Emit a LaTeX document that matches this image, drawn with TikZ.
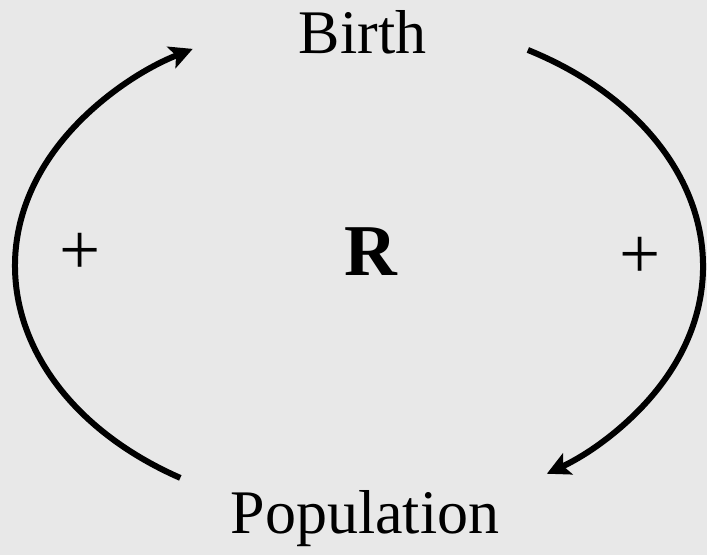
\documentclass[tikz,border=0pt]{standalone}
\usepackage{fontspec}
\setmainfont{Liberation Serif}
\usepackage{tikz}
\usetikzlibrary{arrows.meta,calc,positioning}
\tikzset{
  fondo/.style={fill=black!9,draw=none},
  etiqueta/.style={anchor=base,inner sep=0pt,font=\fontsize{62}{70}\selectfont},
  signo/.style={anchor=base,inner sep=0pt,font=\fontsize{73}{80}\selectfont},
  enlace/.style={line width=6pt,-{Stealth[length=23pt,width=23pt,inset=5pt]}}
}
\begin{document}
\begin{tikzpicture}[x=1pt,y=-1pt]
\fill[fondo] (0,0) rectangle (707,555);
\useasboundingbox (0,0) rectangle (707,555);
\node[etiqueta] (birth) at (362.5,53) {Birth};
\node[etiqueta] (pop) at (365,533) {Population};
\node[signo,font=\fontsize{73}{80}\selectfont\bfseries] (lazo) at (370.5,275) {R};
\node[signo] (masizq) at (80.5,274) {+};
\node[signo] (masder) at (640,278) {+};
\coordinate (inicioizq) at ($(359,266)+(121.3:344 and 248)$);
\coordinate (inicioder) at ($(359,266)+(-60.6:344 and 248)$);
\draw[enlace] (inicioizq) arc[start angle=121.3,end angle=241.1,x radius=344,y radius=248];
\draw[enlace] (inicioder) arc[start angle=-60.6,end angle=56.9,x radius=344,y radius=248];
\end{tikzpicture}
\end{document}
